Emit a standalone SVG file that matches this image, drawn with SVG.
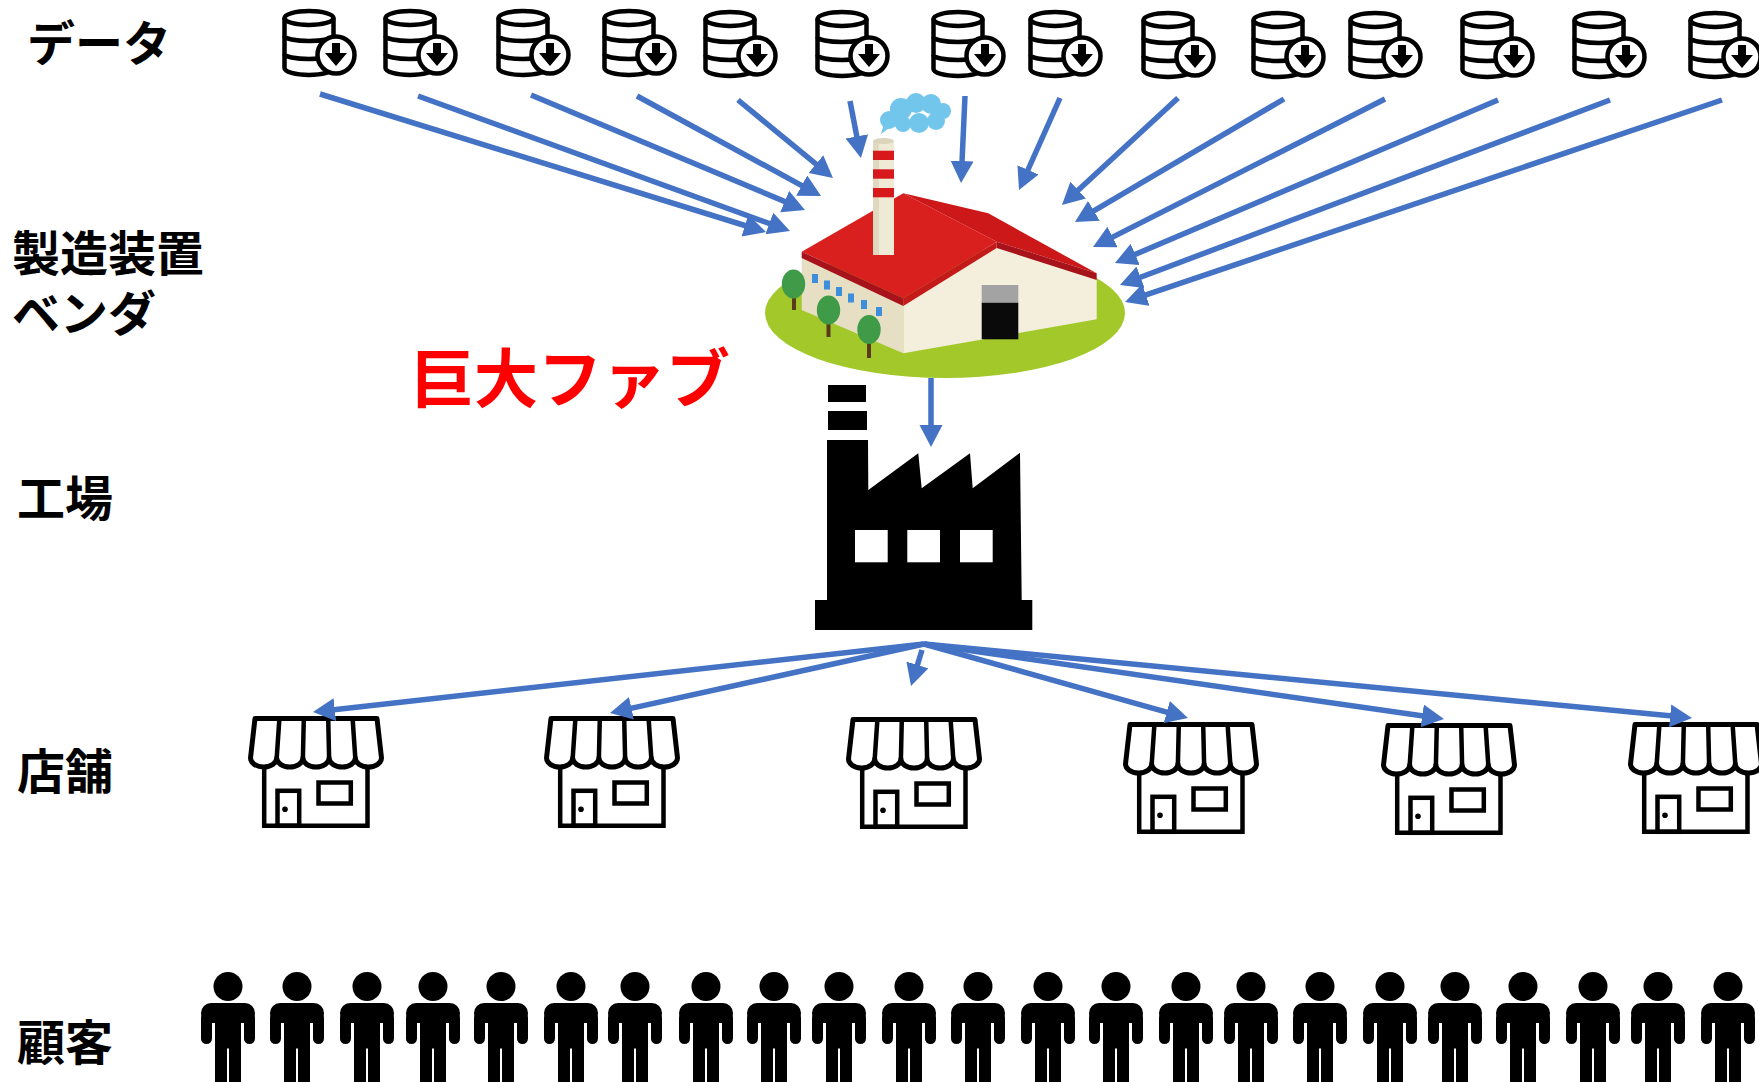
<svg xmlns="http://www.w3.org/2000/svg" width="1759" height="1082" viewBox="0 0 1759 1082">
<style>
  .lbl { font-family: "Noto Sans CJK JP", "Noto Sans", sans-serif; font-weight: 700; font-size: 48px; fill: #000; }
  .fab-lbl { font-family: "Noto Sans CJK JP", "Noto Sans", sans-serif; font-weight: 700; font-size: 64px; fill: #FF0000; }
  .ink { fill: none; stroke: #000; stroke-width: 4.5; }
  .shop-ink { fill: #fff; stroke: #000; stroke-width: 5; stroke-linejoin: round; }
  .conn { stroke: #4472C4; stroke-width: 5.5; fill: none; marker-end: url(#head); }
</style>
<defs>
  <marker id="head" markerUnits="userSpaceOnUse" markerWidth="24" markerHeight="24" refX="10" refY="11.5" orient="auto">
    <path d="M0,0 L22,11.5 L0,23 Z" fill="#4472C4"/>
  </marker>
  <!-- database with download badge -->
  <g id="db">
    <path class="ink" d="M4.5,13 L4.5,63 A24.5,7 0 0 0 53.5,63 L53.5,13"/>
    <ellipse class="ink" cx="29" cy="13" rx="24.5" ry="7"/>
    <path class="ink" d="M4.5,31 A24.5,5 0 0 0 53.5,31 M4.5,49 A24.5,5 0 0 0 53.5,49"/>
    <circle cx="56" cy="50" r="18.5" fill="#fff" stroke="#000" stroke-width="4.5"/>
    <rect x="52" y="38" width="8" height="12" fill="#000"/>
    <path d="M45,48 L67,48 L56,61 Z" fill="#000"/>
  </g>
  <!-- shop front with awning -->
  <g id="shop">
    <path class="shop-ink" d="M6,2.5 L128,2.5 L132.5,42 A13.1,9 0 0 1 106.3,42 A13.1,9 0 0 1 80.1,42 A13.1,9 0 0 1 53.9,42 A13.1,9 0 0 1 27.7,42 A13.1,9 0 0 1 1.5,42 Z"/>
    <path class="ink" stroke-width="5" d="M30.4,2.5 L27.7,42 M54.8,2.5 L53.9,42 M79.2,2.5 L80.1,42 M103.6,2.5 L106.3,42"/>
    <path class="ink" stroke-width="5" d="M15.2,50 L15.2,109.8 L118.5,109.8 L118.5,50"/>
    <rect class="ink" stroke-width="5" x="28.5" y="74.8" width="21.7" height="35"/>
    <circle cx="36" cy="93.3" r="2.8" fill="#000"/>
    <rect class="ink" stroke-width="5" x="69.5" y="66.5" width="32.3" height="21"/>
  </g>
  <!-- standing person, origin at head centre -->
  <g id="person" fill="#000">
    <circle cx="0" cy="0" r="14.5"/>
    <rect x="-27" y="16.5" width="54" height="20" rx="10"/>
    <rect x="-27" y="26" width="11" height="31.5" rx="5.5"/>
    <rect x="16" y="26" width="11" height="31.5" rx="5.5"/>
    <rect x="-13" y="20" width="26" height="42"/>
    <rect x="-13" y="55" width="12" height="50"/>
    <rect x="1" y="55" width="12" height="50"/>
  </g>
</defs>

<rect width="1759" height="1082" fill="#fff"/>

<!-- row labels -->
<g id="labels">
  <text class="lbl" x="27" y="61">データ</text>
  <text class="lbl" x="12" y="271">製造装置<tspan x="12" dy="60">ベンダ</tspan></text>
  <text class="lbl" x="17" y="516">工場</text>
  <text class="lbl" x="17" y="789">店舗</text>
  <text class="lbl" x="17" y="1060">顧客</text>
</g>

<!-- data sources -->
<g id="data-sources">
  <g id="data-1" transform="translate(280,5)"><use href="#db"/></g>
  <g id="data-2" transform="translate(381,5)"><use href="#db"/></g>
  <g id="data-3" transform="translate(494,5)"><use href="#db"/></g>
  <g id="data-4" transform="translate(600,5)"><use href="#db"/></g>
  <g id="data-5" transform="translate(701,6)"><use href="#db"/></g>
  <g id="data-6" transform="translate(813,6)"><use href="#db"/></g>
  <g id="data-7" transform="translate(929,6)"><use href="#db"/></g>
  <g id="data-8" transform="translate(1026,6)"><use href="#db"/></g>
  <g id="data-9" transform="translate(1139,7)"><use href="#db"/></g>
  <g id="data-10" transform="translate(1249,7)"><use href="#db"/></g>
  <g id="data-11" transform="translate(1346,7)"><use href="#db"/></g>
  <g id="data-12" transform="translate(1458,7)"><use href="#db"/></g>
  <g id="data-13" transform="translate(1570,7)"><use href="#db"/></g>
  <g id="data-14" transform="translate(1686,7)"><use href="#db"/></g>
</g>

<!-- large fab illustration -->
<g id="fab">
  <ellipse cx="945" cy="313" rx="180" ry="65" fill="#A3C82A"/>
  <!-- walls -->
  <polygon points="801.7,256 903.3,304 903.3,353.3 801.7,310" fill="#E6DFC3"/>
  <polygon points="903.3,304 996.7,246 1096.7,279 1096.7,319.3 903.3,353.3" fill="#F3EFDC"/>
  <!-- roof -->
  <polygon points="801.7,251.7 903.3,193.3 996.7,241.7 903.3,298.3" fill="#DA1F1F"/>
  <polygon points="903.3,193.3 988.3,213.3 1096.7,273.3 996.7,241.7" fill="#CC1818"/>
  <polygon points="801.7,251.7 903.3,298.3 903.3,306 801.7,258" fill="#A8121A"/>
  <polygon points="903.3,298.3 996.7,241.7 996.7,248 903.3,306" fill="#C41A1A"/>
  <polygon points="996.7,241.7 1096.7,273.3 1096.7,280 996.7,248" fill="#A8121A"/>
  <!-- door -->
  <rect x="981.7" y="285" width="36.6" height="17.7" fill="#A3A3A3"/>
  <rect x="981.7" y="302.7" width="36.6" height="36.6" fill="#0A0A0A"/>
  <!-- side windows -->
  <g fill="#3D8FDB">
    <rect x="812" y="274" width="6" height="9"/>
    <rect x="824" y="280.5" width="6" height="9"/>
    <rect x="836" y="287" width="6" height="9"/>
    <rect x="848" y="293.5" width="6" height="9"/>
    <rect x="861" y="300" width="6" height="9"/>
    <rect x="876" y="307" width="6" height="9"/>
  </g>
  <!-- chimney -->
  <rect x="873" y="141" width="21" height="114" fill="#EEEAD6"/>
  <rect x="873" y="141" width="6" height="114" fill="#E0D9C0"/>
  <ellipse cx="883.5" cy="141" rx="10.5" ry="3" fill="#DCD5BC"/>
  <g fill="#D7191C">
    <rect x="873" y="150.7" width="21" height="9.3"/>
    <rect x="873" y="169.3" width="21" height="9.4"/>
    <rect x="873" y="188" width="21" height="9.3"/>
  </g>
  <!-- smoke -->
  <g fill="#72C6EC">
    <circle cx="889" cy="120" r="9"/>
    <circle cx="901" cy="109" r="11"/>
    <circle cx="916" cy="103" r="10"/>
    <circle cx="931" cy="104" r="10"/>
    <circle cx="943" cy="111" r="8"/>
    <circle cx="936" cy="121" r="9"/>
    <circle cx="919" cy="123" r="10"/>
    <circle cx="903" cy="124" r="8"/>
    <path d="M884,124 L881,134 L892,126 Z"/>
  </g>
  <!-- trees -->
  <g fill="#5A3A1C">
    <rect x="792" y="294" width="4" height="16"/>
    <rect x="826.5" y="321" width="4" height="16"/>
    <rect x="867" y="340" width="4" height="18"/>
  </g>
  <g fill="#3F9B48">
    <ellipse cx="793.5" cy="284" rx="11.7" ry="14.5"/>
    <ellipse cx="828.5" cy="310" rx="11.7" ry="14.5"/>
    <ellipse cx="869" cy="329.5" rx="11.7" ry="14.5"/>
  </g>
</g>

<text id="fab-label" class="fab-lbl" x="410" y="402">巨大ファブ</text>

<!-- factory silhouette -->
<g id="factory" fill="#000">
  <rect x="828" y="385" width="38" height="17"/>
  <rect x="828" y="411" width="39" height="19"/>
  <path d="M827,440 L868,440 L868.3,490 L918.3,453.3 L921.7,488.3 L970,453.3 L972.7,488.3 L1020,452.7 L1021.7,600 L1032.3,600 L1032.3,630 L815,630 L815,600 L827,600 Z"/>
  <g fill="#fff">
    <rect x="855" y="530" width="32.7" height="32.3"/>
    <rect x="907.3" y="530" width="32.7" height="32.3"/>
    <rect x="960" y="530" width="32.7" height="32.3"/>
  </g>
</g>

<!-- shops -->
<g id="shops">
  <g id="shop-1" transform="translate(249,716)"><use href="#shop"/></g>
  <g id="shop-2" transform="translate(545,716)"><use href="#shop"/></g>
  <g id="shop-3" transform="translate(847,717)"><use href="#shop"/></g>
  <g id="shop-4" transform="translate(1124,722)"><use href="#shop"/></g>
  <g id="shop-5" transform="translate(1382,723)"><use href="#shop"/></g>
  <g id="shop-6" transform="translate(1629,722)"><use href="#shop"/></g>
</g>

<!-- customers -->
<g id="customers">
  <g id="customer-1" transform="translate(228,986.5)"><use href="#person"/></g>
  <g id="customer-2" transform="translate(297,986.5)"><use href="#person"/></g>
  <g id="customer-3" transform="translate(367,986.5)"><use href="#person"/></g>
  <g id="customer-4" transform="translate(433,986.5)"><use href="#person"/></g>
  <g id="customer-5" transform="translate(501,986.5)"><use href="#person"/></g>
  <g id="customer-6" transform="translate(571,986.5)"><use href="#person"/></g>
  <g id="customer-7" transform="translate(635,986.5)"><use href="#person"/></g>
  <g id="customer-8" transform="translate(706,986.5)"><use href="#person"/></g>
  <g id="customer-9" transform="translate(774,986.5)"><use href="#person"/></g>
  <g id="customer-10" transform="translate(839,986.5)"><use href="#person"/></g>
  <g id="customer-11" transform="translate(909,986.5)"><use href="#person"/></g>
  <g id="customer-12" transform="translate(978,986.5)"><use href="#person"/></g>
  <g id="customer-13" transform="translate(1048,986.5)"><use href="#person"/></g>
  <g id="customer-14" transform="translate(1116,986.5)"><use href="#person"/></g>
  <g id="customer-15" transform="translate(1186,986.5)"><use href="#person"/></g>
  <g id="customer-16" transform="translate(1251,986.5)"><use href="#person"/></g>
  <g id="customer-17" transform="translate(1320,986.5)"><use href="#person"/></g>
  <g id="customer-18" transform="translate(1390,986.5)"><use href="#person"/></g>
  <g id="customer-19" transform="translate(1455,986.5)"><use href="#person"/></g>
  <g id="customer-20" transform="translate(1523,986.5)"><use href="#person"/></g>
  <g id="customer-21" transform="translate(1593,986.5)"><use href="#person"/></g>
  <g id="customer-22" transform="translate(1658,986.5)"><use href="#person"/></g>
  <g id="customer-23" transform="translate(1728,986.5)"><use href="#person"/></g>
</g>

<!-- connectors -->
<g id="connectors">
  <path class="conn" d="M320,94 L754.5,228.5"/>
  <path class="conn" d="M418,96 L778.7,226.9"/>
  <path class="conn" d="M531,95 L793.9,205.4"/>
  <path class="conn" d="M637,96 L810.5,190.3"/>
  <path class="conn" d="M738,100 L823.7,170.4"/>
  <path class="conn" d="M850,101 L858.7,146.2"/>
  <path class="conn" d="M965,96 L961.6,171"/>
  <path class="conn" d="M1060,98 L1023.9,179"/>
  <path class="conn" d="M1178,98 L1070.8,196.9"/>
  <path class="conn" d="M1284,99 L1085.3,215.9"/>
  <path class="conn" d="M1385,99 L1103.7,241.6"/>
  <path class="conn" d="M1498,100 L1126,258.3"/>
  <path class="conn" d="M1610,100 L1131.2,280.8"/>
  <path class="conn" d="M1722,100 L1136.4,298.1"/>

  <path class="conn" d="M931,378 L931,435"/>

  <path class="conn" d="M924,644 L324.9,710.7"/>
  <path class="conn" d="M924,644 L621.7,710.4"/>
  <path class="conn" d="M922,650 L914.5,674.5"/>
  <path class="conn" d="M924,644 L1176.4,714.8"/>
  <path class="conn" d="M924,644 L1432.1,717.3"/>
  <path class="conn" d="M924,644 L1680.1,716.8"/>
</g>
</svg>
